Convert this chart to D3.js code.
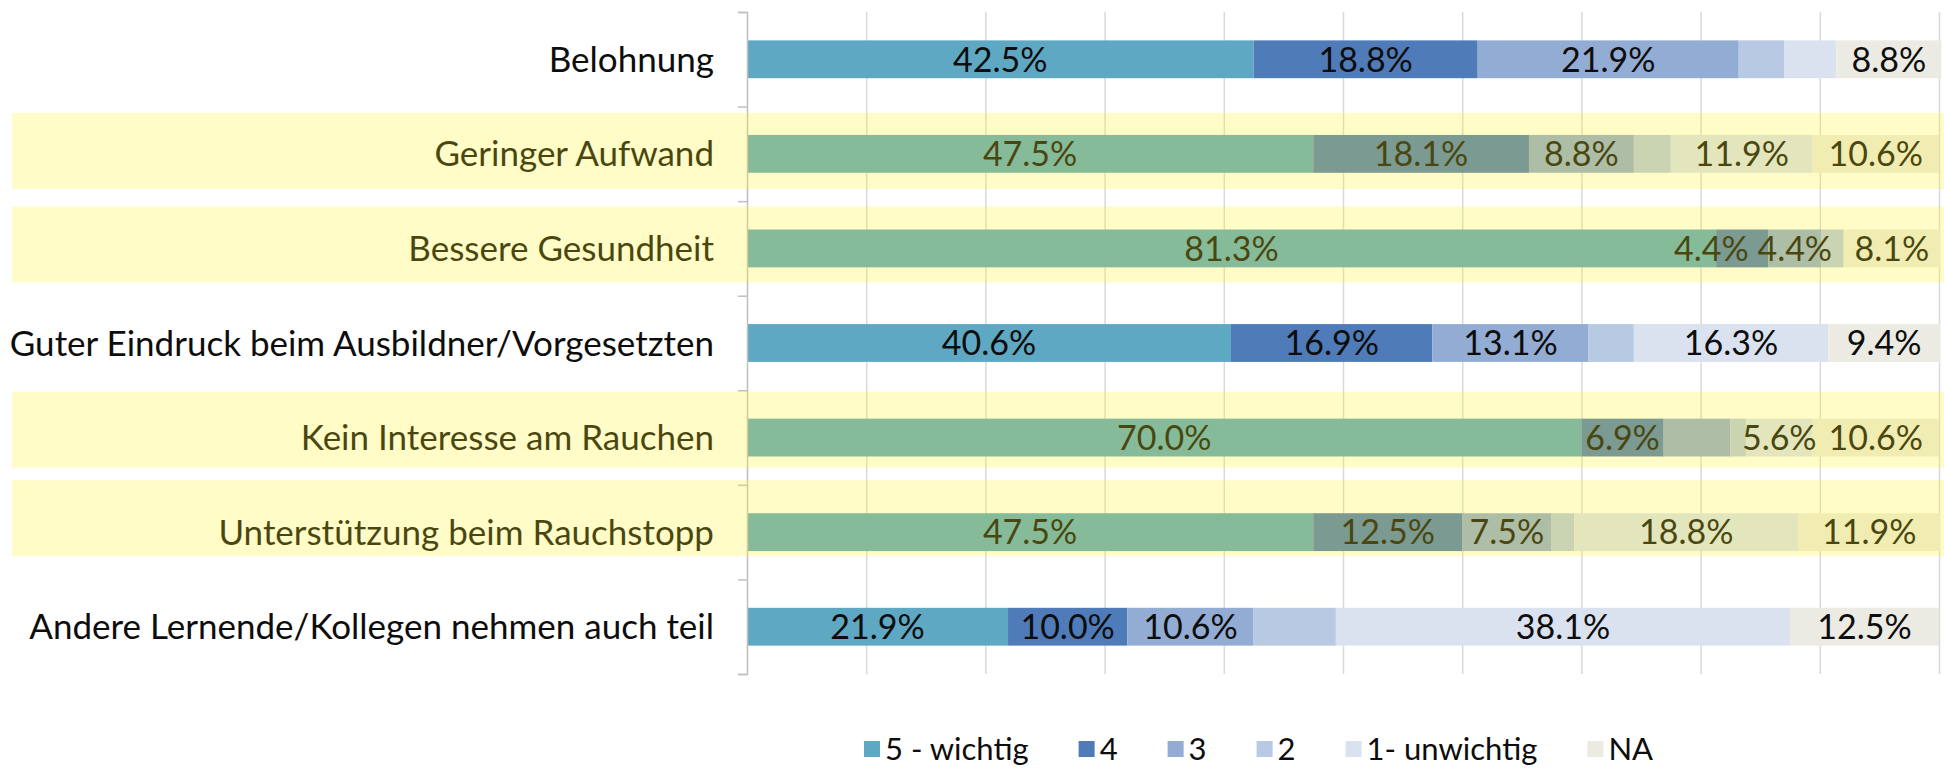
<!DOCTYPE html>
<html>
<head>
<meta charset="utf-8">
<script src="https://cdn.jsdelivr.net/npm/d3@7"></script>
<style>
  body { margin: 0; background: #fff; }
  svg { display: block; }
  text { font-family: Lato, "Open Sans", sans-serif; }
</style>
</head>
<body>
<svg id="chart" width="1944" height="780"></svg>
<script>
// categories (top to bottom)
var categories = [
    "Belohnung",
    "Geringer Aufwand",
    "Bessere Gesundheit",
    "Guter Eindruck beim Ausbildner/Vorgesetzten",
    "Kein Interesse am Rauchen",
    "Unterstützung beim Rauchstopp",
    "Andere Lernende/Kollegen nehmen auch teil"
];
var seriesNames = ["5 - wichtig", "4", "3", "2", "1- unwichtig", "NA"];
var seriesColors = ["#5EA8C3", "#4F7CB8", "#93ACD3", "#B8C9E3", "#DAE2F0", "#ECEBE3"];

// percent values per series, one entry per category
var wichtig5 = [42.5, 47.5, 81.3, 40.6, 70.0, 47.5, 21.9];
var wert4    = [18.8, 18.1, 4.4, 16.9, 6.9, 12.5, 10.0];
var wert3    = [21.9, 8.8, 4.4, 13.1, 5.6, 7.5, 10.6];
var wert2    = [3.8, 3.1, 1.9, 3.8, 1.3, 1.9, 6.9];
var unwichtig1 = [4.4, 11.9, 0, 16.3, 5.6, 18.8, 38.1];
var na       = [8.8, 10.6, 8.1, 9.4, 10.6, 11.9, 12.5];
var seriesValues = [wichtig5, wert4, wert3, wert2, unwichtig1, na];

// which segments carry a data label (same layout as the values)
var labelShown = [
    [1, 1, 1, 0, 0, 1],
    [1, 1, 1, 0, 1, 1],
    [1, 1, 1, 0, 0, 1],
    [1, 1, 1, 0, 1, 1],
    [1, 1, 0, 0, 1, 1],
    [1, 1, 1, 0, 1, 1],
    [1, 1, 1, 0, 1, 1]
];
// rows the author marked with a yellow highlighter
var highlighted = ["Geringer Aufwand", "Bessere Gesundheit", "Kein Interesse am Rauchen", "Unterstützung beim Rauchstopp"];

var svg = d3.select("#chart");
var plotLeft = 747, plotRight = 1939, plotTop = 12, plotBottom = 674;

var x = d3.scaleLinear().domain([0, 100]).range([plotLeft, plotRight]);
var y = d3.scaleBand().domain(categories).range([plotTop, plotBottom]).paddingInner(0.6).paddingOuter(0.3);
var edges = d3.scaleLinear().domain([0, categories.length]).range([plotTop, plotBottom]);

// vertical gridlines
svg.append("g")
    .attr("transform", "translate(0," + plotBottom + ")")
    .call(d3.axisBottom(x).tickValues(d3.range(10, 101, 10)).tickSize(-(plotBottom - plotTop)).tickFormat(""))
    .call(function(g) { g.select(".domain").remove(); })
    .selectAll("line")
    .attr("stroke", "#D9D9D9")
    .attr("stroke-width", 1.5);

// stacked rows
var rows = categories.map(function(c, i) {
    var start = 0;
    return seriesValues.map(function(vals, s) {
        var seg = { cat: c, s: s, x0: start, x1: start + vals[i], v: vals[i], show: labelShown[i][s] };
        start += vals[i];
        return seg;
    });
});
var segs = d3.merge(rows);

svg.append("g").selectAll("rect")
    .data(segs)
    .enter()
    .append("rect")
    .attr("x", function(d) { return x(d.x0); })
    .attr("width", function(d) { return x(d.x1) - x(d.x0); })
    .attr("y", function(d) { return y(d.cat); })
    .attr("height", y.bandwidth())
    .attr("fill", function(d) { return seriesColors[d.s]; });

svg.append("g").selectAll("text")
    .data(segs.filter(function(d) { return d.show && d.v > 0; }))
    .enter()
    .append("text")
    .attr("x", function(d) {
        var cx = x((d.x0 + d.x1) / 2);
        // the tiny 4.4% next to another 4.4% was pushed to the left
        if (d.cat === "Bessere Gesundheit" && d.s === 1) cx -= 31;
        return cx;
    })
    .attr("y", function(d) { return y(d.cat) + y.bandwidth() / 2; })
    .attr("dy", "0.36em")
    .attr("text-anchor", "middle")
    .attr("font-size", 34)
    .attr("fill", "#0D0D0D")
    .text(function(d) { return d.v.toFixed(1) + "%"; });

// category axis with ticks on the row edges
svg.append("g")
    .attr("transform", "translate(" + plotLeft + ",0)")
    .call(d3.axisLeft(edges).ticks(categories.length).tickSize(9).tickFormat(""))
    .call(function(g) {
        g.select(".domain").attr("stroke", "#BFBFBF").attr("stroke-width", 1.5);
        g.selectAll("line").attr("stroke", "#BFBFBF").attr("stroke-width", 1.5);
    });

svg.append("g")
    .attr("transform", "translate(" + plotLeft + ",0)")
    .call(d3.axisLeft(y).tickSize(0).tickPadding(33))
    .call(function(g) {
        g.select(".domain").remove();
        g.selectAll("text")
            .attr("font-size", 35)
            .attr("font-family", "Lato, sans-serif")
            .attr("fill", "#0D0D0D")
            .attr("dy", "0.36em");
    });

// yellow highlighter strokes over the marked rows
var hlOffset = { "Geringer Aufwand": -3, "Bessere Gesundheit": -4, "Kein Interesse am Rauchen": -8, "Unterstützung beim Rauchstopp": -14 };
svg.append("g").selectAll("rect")
    .data(highlighted)
    .enter()
    .append("rect")
    .attr("x", 12)
    .attr("width", 1944 - 12)
    .attr("y", function(d) { return y(d) + y.bandwidth() / 2 - 38 + hlOffset[d]; })
    .attr("height", 76)
    .attr("fill", "rgb(255,245,30)")
    .attr("fill-opacity", 0.25);

// legend
var legend = svg.append("g").attr("transform", "translate(864,749)");
var lx = 0;
seriesNames.forEach(function(name, i) {
    var item = legend.append("g").attr("transform", "translate(" + lx + ",0)");
    item.append("rect")
        .attr("x", 0)
        .attr("y", -8)
        .attr("width", 16)
        .attr("height", 16)
        .attr("fill", seriesColors[i]);
    var t = item.append("text")
        .attr("x", 21)
        .attr("dy", "0.36em")
        .attr("font-size", 31)
        .attr("fill", "#0D0D0D")
        .text(name);
    lx += 21 + t.node().getComputedTextLength() + 50;
});
</script>
</body>
</html>
